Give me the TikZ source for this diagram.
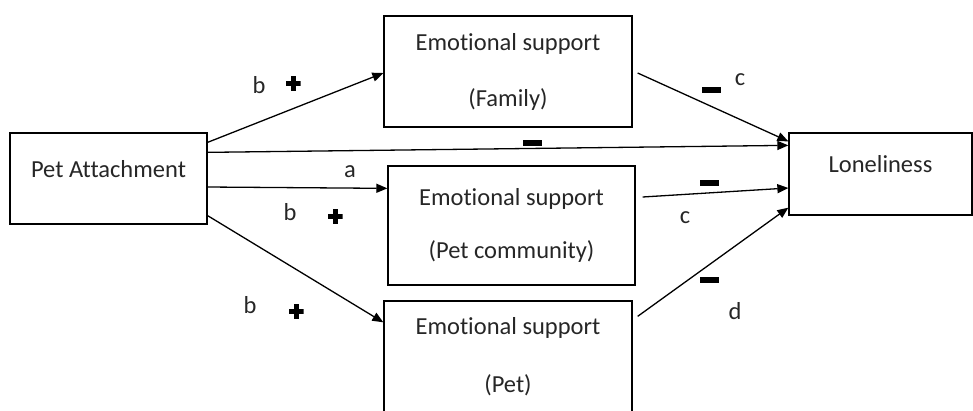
\documentclass[tikz,border=0pt]{standalone}
\usepackage{fontspec}
\setmainfont{Carlito}[Ligatures=TeX, RawFeature={-liga;-clig;-calt;-dlig}]
\usetikzlibrary{arrows.meta}

\begin{document}
\begin{tikzpicture}[
        x=1pt, y=1pt,
        box/.style={draw=black, line width=1.3pt, inner sep=0pt, align=center, text=black!85, font=\fontsize{24.5}{56}\selectfont},
        single/.style={font=\fontsize{24.5}{20}\selectfont},
        link/.style={-{Triangle[length=11pt,width=9pt]}, line width=1.3pt},
        coef/.style={inner sep=0pt, text=black!85, font=\fontsize{24.5}{24.5}\selectfont},
        plussign/.style={minimum size=15pt, inner sep=0pt, path picture={
            \fill ([xshift=-7.5pt,yshift=-2.5pt]path picture bounding box.center) rectangle ++(15pt,5pt);
            \fill ([xshift=-2.5pt,yshift=-7.5pt]path picture bounding box.center) rectangle ++(5pt,15pt);}},
        minussign/.style={fill=black, inner sep=0pt, minimum width=19pt, minimum height=6pt}
    ]
    \clip (0,0) rectangle (973,-410);

    \node[box,single,minimum width=197pt,minimum height=91pt] (att) at (108.5,-178.5) {Pet Attachment\\~};
    \node[box,minimum width=248pt,minimum height=111pt] (fam) at (508,-71.5) {Emotional support\\(Family)};
    \node[box,minimum width=247pt,minimum height=119pt,font=\fontsize{24.5}{53}\selectfont] (com) at (511.5,-225.5) {Emotional support\\(Pet community)};
    \node[box,minimum width=248pt,minimum height=112pt,font=\fontsize{24.5}{58}\selectfont] (pet) at (508,-357) {Emotional support\\(Pet)};
    \node[box,single,minimum width=183pt,minimum height=82pt] (lone) at (880.5,-174) {Loneliness\\~};

    \draw[link] ([yshift=-10pt]att.north east) -- ([yshift=-1.5pt]fam.west);
    \draw[link] ([yshift=-20pt]att.north east) -- ([yshift=-13pt]lone.north west);
    \draw[link] ([yshift=-8.5pt]att.east) -- ([yshift=-23pt]com.north west);
    \draw[link] ([yshift=9pt]att.south east) -- ([yshift=-22pt]pet.north west);
    \draw[link] ([xshift=5pt,yshift=-1.5pt]fam.east) -- ([yshift=-9pt]lone.north west);
    \draw[link] ([xshift=7pt,yshift=28.5pt]com.east) -- ([yshift=-14pt]lone.west);
    \draw[link] ([xshift=5pt,yshift=-16pt]pet.north east) -- ([yshift=8pt]lone.south west);

    \node[coef] (bfam) at (259,-85) {b};
    \node[plussign] (pfam) at (293,-83) {};
    \node[coef] (a) at (350,-172) {a};
    \node[coef] (bcom) at (290,-212) {b};
    \node[plussign] (pcom) at (335,-216) {};
    \node[coef] (bpet) at (250,-305) {b};
    \node[plussign] (ppet) at (296,-311) {};
    \node[minussign] (mdir) at (532.5,-143) {};
    \node[minussign] (mfam) at (711.5,-89.5) {};
    \node[coef] (cfam) at (740,-80) {c};
    \node[minussign] (mcom) at (709,-183) {};
    \node[coef] (ccom) at (685,-218) {c};
    \node[minussign] (mpet) at (709,-280) {};
    \node[coef] (dpet) at (735,-311) {d};
\end{tikzpicture}
\end{document}
